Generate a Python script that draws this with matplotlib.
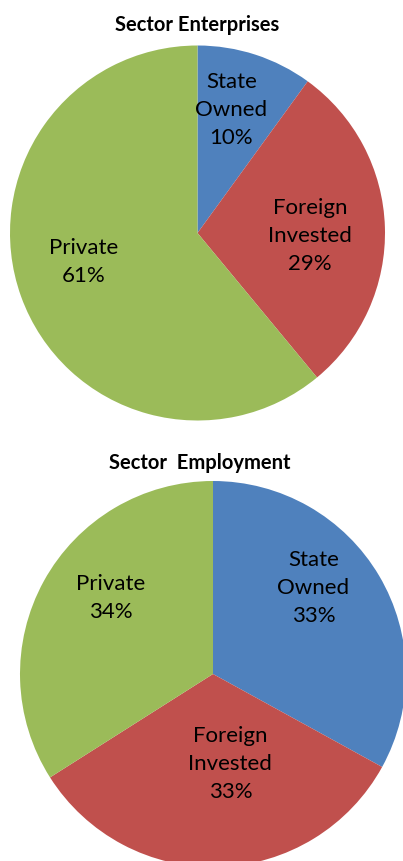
import numpy as np
import matplotlib
matplotlib.use("Agg")
import matplotlib.pyplot as plt

plt.rcParams["font.family"] = ["Lato", "DejaVu Sans"]

sectors = ["State\nOwned", "Foreign\nInvested", "Private"]
enterprises = [10, 29, 61]
employment = [33, 33, 34]
colors = ["#4F81BD", "#C0504D", "#9BBB59"]

W, H = 403, 862
fig = plt.figure(figsize=(W / 100, H / 100), dpi=100)


def px_axes(cx, cy, r):
    # axes whose [-1, 1] box spans a circle of radius r centred at (cx, cy) px
    return fig.add_axes([(cx - r) / W, (H - cy - r) / H, 2 * r / W, 2 * r / H])


def draw_pie(ax, values, label_pos):
    ax.pie(values, colors=colors, startangle=90, counterclock=False,
           radius=1.0, wedgeprops=dict(linewidth=0))
    for name, v, (x, y) in zip(sectors, values, label_pos):
        ax.text(x, y, f"{name}\n{v}%", ha="center", va="center",
                fontsize=16, linespacing=1.5, color="black")
    ax.set_xlim(-1, 1)
    ax.set_ylim(-1, 1)
    ax.set_aspect("equal")
    ax.axis("off")


ax1 = px_axes(197.5, 234, 187.5)
draw_pie(ax1, enterprises, [(0.18, 0.66), (0.60, -0.01), (-0.61, -0.15)])
fig.text(197 / W, 1 - 25 / H, "Sector Enterprises", ha="center", va="center",
         fontsize=14.5, fontweight="bold")

ax2 = px_axes(213, 675, 193)
draw_pie(ax2, employment, [(0.52, 0.45), (0.09, -0.46), (-0.53, 0.40)])
fig.text(200 / W, 1 - 463 / H, "Sector  Employment", ha="center", va="center",
         fontsize=14.5, fontweight="bold")

fig.savefig("out.png", dpi=100)
